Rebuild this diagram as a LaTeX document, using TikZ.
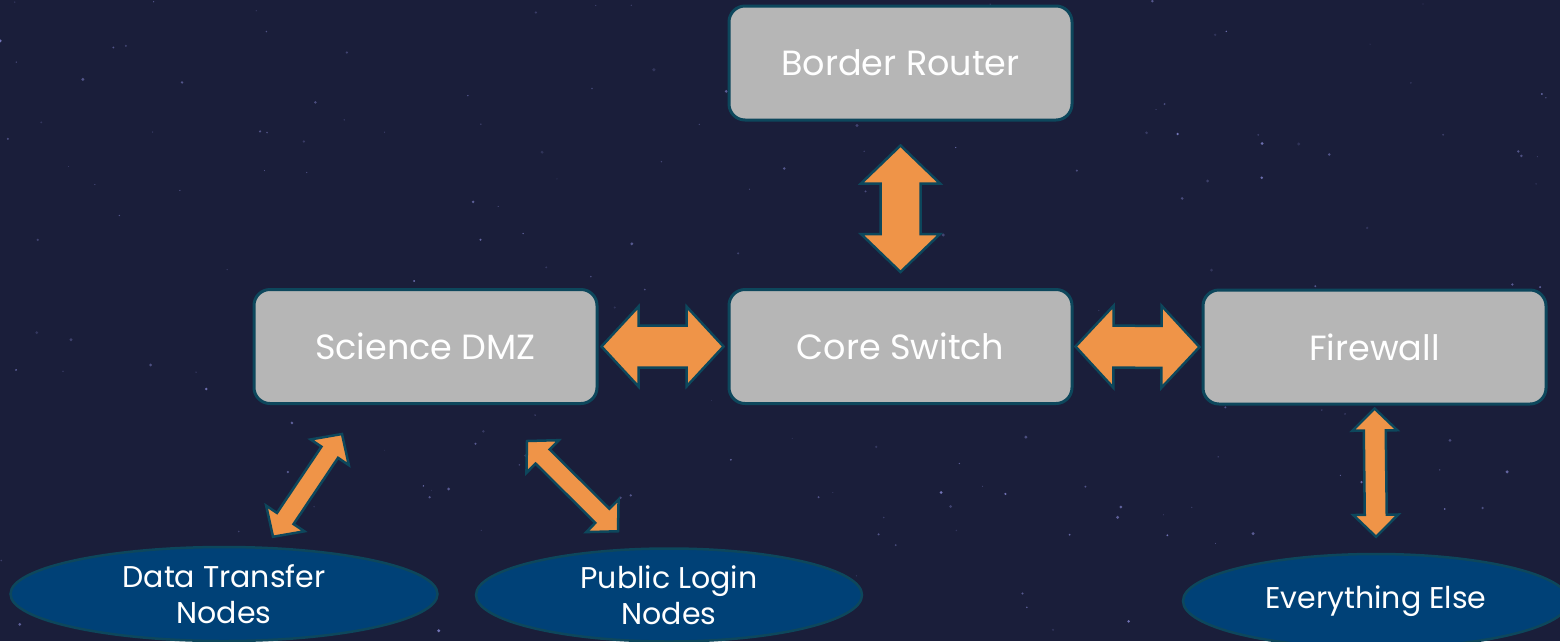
\documentclass[tikz,border=0pt]{standalone}
\usepackage{fontspec}
\setmainfont{Poppins}
\usetikzlibrary{calc,shapes.geometric}
\definecolor{skybg}{HTML}{1A1E3A}
\definecolor{boxgray}{HTML}{B6B6B6}
\definecolor{edgeteal}{HTML}{0D475C}
\definecolor{ellblue}{HTML}{004177}
\definecolor{arroworange}{HTML}{EF9448}
\tikzset{
  boxnode/.style={draw=edgeteal, line width=3pt, fill=boxgray, rounded corners=16pt,
    minimum width=343pt, minimum height=114pt, text=white, font=\fontsize{35}{40}\selectfont},
  ellnode/.style={ellipse, draw=edgeteal, line width=2.5pt, fill=ellblue, text=white,
    align=center, inner sep=0pt, font=\fontsize{30}{36}\selectfont},
  barrow/.style={draw=edgeteal, line width=2.5pt, fill=arroworange, line join=miter}
}
\newcommand\blockarrow[5]{%
 \draw[barrow] (#1)
 -- ($(#1)!#5!(#2)!#4!90:(#2)$)
 -- ($(#1)!#5!(#2)!#3!90:(#2)$)
 -- ($(#2)!#5!(#1)!#3!-90:(#1)$)
 -- ($(#2)!#5!(#1)!#4!-90:(#1)$)
 -- (#2)
 -- ($(#2)!#5!(#1)!#4!90:(#1)$)
 -- ($(#2)!#5!(#1)!#3!90:(#1)$)
 -- ($(#1)!#5!(#2)!#3!-90:(#2)$)
 -- ($(#1)!#5!(#2)!#4!-90:(#2)$)
 -- cycle;}
\begin{document}
\begin{tikzpicture}[x=1pt,y=-1pt]
\useasboundingbox (0,0) rectangle (1560,641);
\fill[skybg] (0,0) rectangle (1560,641);
\pgfmathsetseed{11}
\foreach \i in {1,...,220}{
  \pgfmathsetmacro\sx{rnd*1560}
  \pgfmathsetmacro\sy{rnd*641}
  \pgfmathsetmacro\sr{rnd*1.3+0.4}
  \pgfmathsetmacro\so{rnd*0.5+0.15}
  \fill[white!65!blue, opacity=\so] (\sx,\sy) circle (\sr pt);
}
% boxes
\node[boxnode] (br) at (900.5,63) {Border Router};
\node[boxnode] (sdmz) at (425.5,346.5) {Science DMZ};
\node[boxnode] (core) at (900.5,346.5) {Core Switch};
\node[boxnode] (fw) at (1374.5,347) {Firewall};
% ellipses
\node[ellnode, minimum width=427pt, minimum height=94pt] (dtn) at (224,594) {Data Transfer\\Nodes};
\node[ellnode, minimum width=386pt, minimum height=93pt] (pln) at (669,595) {Public Login\\Nodes};
\node[ellnode, minimum width=386pt, minimum height=94pt] (ee) at (1376,601) {Everything Else};
% arrow end points
\coordinate (a1s) at ($(br.south)+(0,24)$);
\coordinate (a1e) at ($(core.north)+(0,-16)$);
\coordinate (a2s) at ($(sdmz.east)+(3,0)$);
\coordinate (a2e) at ($(core.west)+(-4,0)$);
\coordinate (a3s) at ($(core.east)+(2,0)$);
\coordinate (a3e) at ($(fw.west)+(-2,0)$);
\coordinate (a4s) at ($(fw.south)+(0,3)$);
\coordinate (a4e) at ($(ee.north)+(0,-16)$);
\coordinate (a5s) at ($(dtn.north)+(49,-9)$);
\coordinate (a5e) at ($(sdmz.south)+(-83.5,29)$);
\coordinate (a6s) at ($(sdmz.south)+(101.5,36)$);
\coordinate (a6e) at ($(pln.north)+(-51,-16)$);
% arrows
\blockarrow{a1s}{a1e}{20pt}{39.5pt}{38pt}
\blockarrow{a2s}{a2e}{21pt}{40pt}{37pt}
\blockarrow{a3s}{a3e}{21pt}{41pt}{38pt}
\blockarrow{a4s}{a4e}{11pt}{22.5pt}{22pt}
\blockarrow{a5s}{a5e}{10pt}{23pt}{22pt}
\blockarrow{a6s}{a6e}{10pt}{23pt}{22pt}
\end{tikzpicture}
\end{document}
